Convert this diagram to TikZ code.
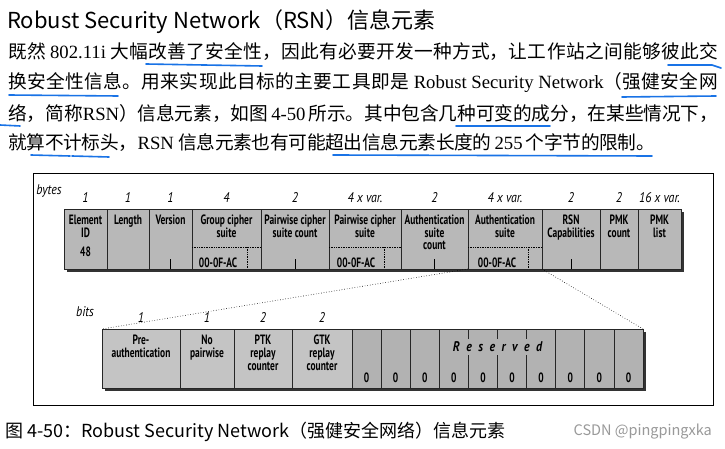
\documentclass[tikz,border=0pt]{standalone}
\usepackage{fontspec}
\setmainfont{Liberation Serif}
\newfontfamily\cjk{Noto Sans CJK SC}
\newfontfamily\diagfont[FakeStretch=0.7]{PT Sans}
\newfontfamily\countfont[FakeStretch=0.85]{PT Sans}
\usetikzlibrary{positioning, shadows}
\XeTeXlinebreaklocale "zh"
\XeTeXlinebreakskip=0pt plus 1fil minus 1.5pt
\definecolor{cellgray}{gray}{0.72}
\definecolor{bitgray}{gray}{0.77}
\definecolor{zerogray}{gray}{0.70}
\definecolor{penblue}{RGB}{25,115,230}
\tikzset{
    cell/.style={rectangle, draw=black!85, line width=0.7pt, fill=cellgray, minimum height=60pt, inner sep=0pt, outer sep=0pt, drop shadow={shadow xshift=2.5pt, shadow yshift=-3pt, fill=black!80, opacity=1}},
    bitcell/.style={cell, fill=bitgray, minimum height=59pt},
    zerocell/.style={bitcell, fill=zerogray, minimum width=29.1pt},
    celltext/.style={font=\diagfont\bfseries\fontsize{13.5}{12.5}\selectfont, align=center, anchor=north, inner sep=0pt, yshift=-6pt},
    bittext/.style={celltext, font=\diagfont\bfseries\fontsize{13.5}{13}\selectfont},
    zerotext/.style={font=\diagfont\bfseries\fontsize{13.5}{13}\selectfont, anchor=south, inner sep=0pt, yshift=5pt},
    count/.style={font=\countfont\itshape\fontsize{14}{14}\selectfont, anchor=south, inner sep=0pt, yshift=6pt},
    subline/.style={densely dotted, line width=0.7pt},
    tick/.style={line width=0.8pt},
    zoomline/.style={dotted, line width=0.6pt},
    pen/.style={draw=penblue, line width=1.6pt, line cap=round},
    bodyline/.style={anchor=west, inner sep=0pt, align=justify, font=\cjk\fontsize{18.7}{19}\selectfont}
}
\begin{document}
\begin{tikzpicture}[x=1pt, y=-1pt]

\fill[white] (0,0) rectangle (725,449);
\useasboundingbox (0,0) rectangle (725,449);

% Heading and text
\node[anchor=west, inner sep=0pt, font=\cjk\fontsize{22}{23}\selectfont] (title) at (7,22)
    {Robust Security Network（RSN）信息元素};

\node[bodyline, text width=710pt] (line1) at (8,52)
    {\parfillskip=0pt 既然 {\rmfamily 802.11i} 大幅改善了安全性，因此有必要开发一种方式，让工作站之间能够彼此交};
\node[bodyline, text width=710pt] (line2) at (8,83)
    {\parfillskip=0pt 换安全性信息。用来实现此目标的主要工具即是{\rmfamily\ Robust Security Network}（强健安全网};
\node[bodyline, text width=710pt] (line3) at (8,113)
    {\parfillskip=0pt 络，简称{\rmfamily RSN}）信息元素，如图{\rmfamily\,4-50\,}所示。其中包含几种可变的成分，在某些情况下，};
\node[bodyline, text width=647pt] (line4) at (8,143)
    {\parfillskip=0pt 就算不计标头，{\rmfamily RSN }信息元素也有可能超出信息元素长度的{\rmfamily\,255\,}个字节的限制。};

% Pen marks
\draw[pen] (146,64) -- (262,66);
\draw[pen] (668,65) -- (712,65) -- (721,68);
\draw[pen] (9,95) -- (118,96);
\draw[pen] (622,97) -- (716,96);
\draw[pen] (0,125) -- (20,126);
\draw[pen] (456,126) -- (550,126);
\draw[pen] (31,155) -- (70,156);
\draw[pen] (72,156) -- (109,157);
\draw[pen] (333,155) -- (652,156);

% Frame
\draw[line width=1pt] (33,174) rectangle (713,405);

% Byte fields
\node[count, anchor=center, yshift=0pt] (bytes) at (49,197) {bytes};

\node[cell, minimum width=43pt, anchor=north west,
    label={[count]north:1}, label={[celltext]north:{Element\\ID}},
    label={[celltext, yshift=-32pt]north:48}] (eid) at (64,209) {};
\node[cell, minimum width=42pt, right=0pt of eid,
    label={[count]north:1}, label={[celltext]north:Length}] (len) {};
\node[cell, minimum width=43pt, right=0pt of len,
    label={[count]north:1}, label={[celltext]north:Version}] (ver) {};
\node[cell, minimum width=69pt, right=0pt of ver,
    label={[count]north:4}, label={[celltext]north:{Group cipher\\suite}}] (grp) {};
\node[cell, minimum width=68pt, right=0pt of grp,
    label={[count]north:2}, label={[celltext]north:{Pairwise cipher\\suite count}}] (pwcnt) {};
\node[cell, minimum width=72pt, right=0pt of pwcnt,
    label={[count]north:4 x var.}, label={[celltext]north:{Pairwise cipher\\suite}}] (pwsuite) {};
\node[cell, minimum width=67pt, right=0pt of pwsuite,
    label={[count]north:2}, label={[celltext]north:{Authentication\\suite\\count}}] (aucnt) {};
\node[cell, minimum width=74pt, right=0pt of aucnt,
    label={[count]north:4 x var.}, label={[celltext]north:{Authentication\\suite}}] (ausuite) {};
\node[cell, minimum width=58pt, right=0pt of ausuite,
    label={[count]north:2}, label={[celltext]north:{RSN\\Capabilities}}] (rsn) {};
\node[cell, minimum width=38pt, right=0pt of rsn,
    label={[count]north:2}, label={[celltext]north:{PMK\\count}}] (pmkcnt) {};
\node[cell, minimum width=43pt, right=0pt of pmkcnt,
    label={[count]north:16 x var.}, label={[celltext]north:{PMK\\list}}] (pmklist) {};

% OUI parts
\draw[subline] ([yshift=-38pt]grp.north west) -- ([yshift=-38pt]grp.north east);
\draw[subline] ([xshift=55pt,yshift=-38pt]grp.north west) -- ([xshift=55pt]grp.south west);
\draw[subline] ([yshift=-38pt]pwsuite.north west) -- ([yshift=-38pt]pwsuite.north east);
\draw[subline] ([xshift=55pt,yshift=-38pt]pwsuite.north west) -- ([xshift=55pt]pwsuite.south west);
\draw[subline] ([yshift=-38pt]ausuite.north west) -- ([yshift=-38pt]ausuite.north east);
\draw[subline] ([xshift=60pt,yshift=-38pt]ausuite.north west) -- ([xshift=60pt]ausuite.south west);
\node[celltext, anchor=center, yshift=0pt] (oui1) at ([xshift=26pt,yshift=-48pt]grp.north west) {00-0F-AC};
\node[celltext, anchor=center, yshift=0pt] (oui2) at ([xshift=27pt,yshift=-48pt]pwsuite.north west) {00-0F-AC};
\node[celltext, anchor=center, yshift=0pt] (oui3) at ([xshift=29pt,yshift=-48pt]ausuite.north west) {00-0F-AC};

% Middle ticks
\draw[tick] (ver.south) -- ++(0,10pt);
\draw[tick] (pwcnt.south) -- ++(0,10pt);
\draw[tick] (aucnt.south) -- ++(0,10pt);
\draw[tick] (rsn.south) -- ++(0,10pt);

% Capability bits
\node[count, anchor=center, yshift=0pt] (bits) at (85,318) {bits};

\node[bitcell, minimum width=78pt, anchor=north west,
    label={[count]north:1}, label={[bittext]north:{Pre-\\authentication}}] (preauth) at (102,329) {};
\node[bitcell, minimum width=54pt, right=0pt of preauth,
    label={[count]north:1}, label={[bittext]north:{No\\pairwise}}] (nopw) {};
\node[bitcell, minimum width=58pt, right=0pt of nopw,
    label={[count]north:2}, label={[bittext]north:{PTK\\replay\\counter}}] (ptk) {};
\node[bitcell, minimum width=60pt, right=0pt of ptk,
    label={[count]north:2}, label={[bittext]north:{GTK\\replay\\counter}}] (gtk) {};
\node[zerocell, right=0pt of gtk, label={[zerotext]south:0}] (z1) {};
\node[zerocell, right=0pt of z1, label={[zerotext]south:0}] (z2) {};
\node[zerocell, right=0pt of z2, label={[zerotext]south:0}] (z3) {};
\node[zerocell, right=0pt of z3, label={[zerotext]south:0}] (z4) {};
\node[zerocell, right=0pt of z4, label={[zerotext]south:0}] (z5) {};
\node[zerocell, right=0pt of z5, label={[zerotext]south:0}] (z6) {};
\node[zerocell, right=0pt of z6, label={[zerotext]south:0}] (z7) {};
\node[zerocell, right=0pt of z7, label={[zerotext]south:0}] (z8) {};
\node[zerocell, right=0pt of z8, label={[zerotext]south:0}] (z9) {};
\node[zerocell, right=0pt of z9, label={[zerotext]south:0}] (z10) {};

\node[fill=zerogray, inner xsep=2pt, inner ysep=3pt,
    font=\countfont\bfseries\itshape\fontsize{14}{14}\selectfont] (resv) at ([yshift=-18pt]z5.north east)
    {R\hspace{6.5pt}e\hspace{6.5pt}s\hspace{6.5pt}e\hspace{6.5pt}r\hspace{6.5pt}v\hspace{6.5pt}e\hspace{6.5pt}d};

% Zoom lines
\draw[zoomline] (ausuite.south west) -- (preauth.north west);
\draw[zoomline] (rsn.south west) -- (z10.north east);

% Caption
\node[anchor=west, inner sep=0pt, font=\cjk\fontsize{18}{18}\selectfont] (caption) at (5,432)
    {图 4-50：Robust Security Network（强健安全网络）信息元素};
\node[anchor=east, inner sep=0pt, text=black!40, font=\cjk\fontsize{14.5}{15}\selectfont] (mark) at (712,432)
    {CSDN @pingpingxka};

\end{tikzpicture}
\end{document}
